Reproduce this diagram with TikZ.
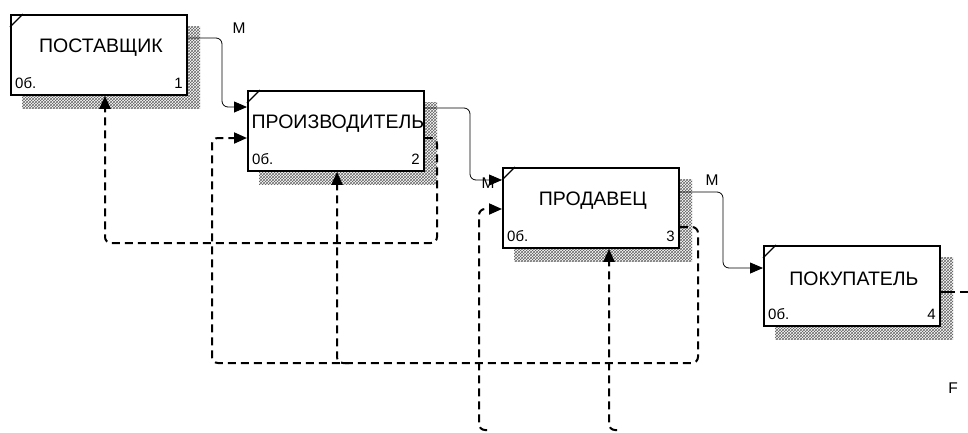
\documentclass[tikz,border=0pt]{standalone}
\usepackage{fontspec}
\setmainfont{Liberation Sans}
\usetikzlibrary{arrows.meta,patterns,calc}
\tikzset{
  idefbox/.style={draw,line width=1.8pt,fill=white,minimum width=176pt,minimum height=80pt,inner sep=0pt,anchor=north west},
  shadowfill/.style={pattern=crosshatch,pattern color=black!60},
  boxtitle/.style={font=\fontsize{19.5}{21}\selectfont,inner sep=0pt},
  boxsmall/.style={font=\fontsize{15}{16}\selectfont,inner sep=0pt},
  lbl/.style={font=\fontsize{15.5}{16}\selectfont,inner sep=0pt},
  tip/.style={-{Triangle[length=13pt,width=11pt]}},
  flow/.style={line width=0.8pt,rounded corners=6pt},
  fback/.style={line width=2pt,dash pattern=on 8pt off 5pt,rounded corners=6pt}
}
\newcommand\myidef[5]{%
  \fill[shadowfill] (#2+12,#3+12) rectangle (#2+190,#3+94);
  \node[idefbox] (#1) at (#2,#3) {};
  \draw[line width=1.2pt] ($(#1.north west)+(0,13)$) -- ($(#1.north west)+(13,0)$);
  \node[boxtitle] (#1t) at ($(#1.center)+(2,-7)$) {#4};
  \node[boxsmall,anchor=base west] (#1a) at ($(#1.south west)+(5,-7)$) {0б.};
  \node[boxsmall,anchor=base east] (#1n) at ($(#1.south east)+(-5,-7)$) {#5};
}
\begin{document}
\begin{tikzpicture}[x=1pt,y=-1pt]
\useasboundingbox (0,0) rectangle (968,432);
\myidef{b1}{10}{14}{ПОСТАВЩИК}{1}
\myidef{b2}{247}{90}{ПРОИЗВОДИТЕЛЬ}{2}
\myidef{b3}{502}{167}{ПРОДАВЕЦ}{3}
\myidef{b4}{763}{245}{ПОКУПАТЕЛЬ}{4}
% ports
\coordinate (b1out) at ($(b1.north east)+(0,24)$);
\coordinate (b2inM) at ($(b2.north west)+(0,17)$);
\coordinate (b2out) at ($(b2.north east)+(0,18)$);
\coordinate (b3inM) at ($(b3.north west)+(0,13)$);
\coordinate (b3out) at ($(b3.north east)+(0,25)$);
\coordinate (b4in) at ($(b4.north west)+(0,23)$);
\coordinate (b4out) at ($(b4.north east)+(0,47)$);
\coordinate (b2fb) at ($(b2.north east)+(0,48)$);
\coordinate (b1bot) at ($(b1.south west)+(95,0)$);
\coordinate (b3fb) at ($(b3.north east)+(0,60)$);
\coordinate (b2in2) at ($(b2.north west)+(0,48)$);
\coordinate (b2bot) at ($(b2.south west)+(90,0)$);
\coordinate (b3in2) at ($(b3.north west)+(0,42)$);
\coordinate (b3bot) at ($(b3.south west)+(107,0)$);
\coordinate (fend) at (968,292);
% labels
\node[lbl] (m1) at (239,28) {M};
\node[lbl] (m2) at (488,183) {M};
\node[lbl] (m3) at (712,180) {M};
\node[lbl] (ff) at (953,388) {F};
% solid flows
\draw[flow,tip] (b1out) -| (222,107) -- (b2inM);
\draw[flow,tip] (b2out) -| (470,180) -- (b3inM);
\draw[flow,tip] (b3out) -| (723,268) -- (b4in);
\draw[line width=2pt,dash pattern=on 14pt off 5pt] (b4out) -- (fend);
% feedback flows
\draw[fback,tip] (b2fb) -| (437,243) -| (b1bot);
\draw[fback,tip] (b3fb) -| (698,363) -| (212,138) -- (b2in2);
\draw[fback,tip] (349,363) -| (b2bot);
\draw[fback,tip] (487,430) -| (479,209) -- (b3in2);
\draw[fback,tip] (617,430) -| (b3bot);
\end{tikzpicture}
\end{document}
